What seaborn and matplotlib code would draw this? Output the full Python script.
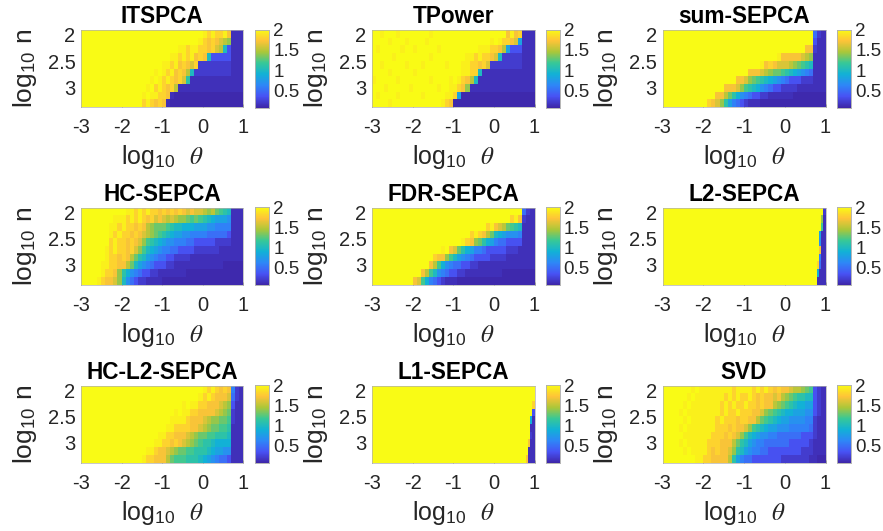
import numpy as np
import pandas as pd
import seaborn as sns
import matplotlib
matplotlib.use("Agg")
import matplotlib.pyplot as plt
from matplotlib.colors import LinearSegmentedColormap

sns.set_style("white")
plt.rcParams["font.family"] = ["Liberation Sans", "DejaVu Sans"]
plt.rcParams["mathtext.fontset"] = "stix"
plt.rcParams["axes.unicode_minus"] = False

# Cell values: each character stands for one estimated level below.
LEVELS = "0123456789ABCDEFGHIJK"
LEVEL_VALUES = [0.0, 0.1, 0.14, 0.22, 0.35, 0.5, 0.6, 0.7, 0.8, 0.9,
                1.0, 1.1, 1.2, 1.3, 1.4, 1.5, 1.6, 1.7, 1.8, 1.94, 2.0]

ITSPCA = [
 "KKKKKKKKKK KKKKKKKKKK KKKKKKKKKK JIJIIJH222",
 "KKKKKKKKKK KKKKKKKKKK KKKKKKKKKJ IHIHGFE222",
 "KKKKKKKKKK KKKKKKKKKK KKKKJJIJJI IHIGFA4222",
 "KKKKKKKKKK KKKKKKKKKK KKJJIJIJHI HA44444222",
 "KKKKKKKKKK KKKKKKKKKK JJIJHIHGI3 3333333222",
 "KKKKKKKKKK KKKKKKKKJK JIJHIHFA33 3333333222",
 "KKKKKKKKKK KKKKKKKJKJ IJIHIGB222 2222222222",
 "KKKKKKKKKK KKKKKKJKIJ IHIF222222 2222222222",
 "KKKKKKKKKK KKKKKJKJJI IH21111111 1111111111",
 "KKKKKKKKKK KKKKKIJIHI H211111111 1111111111",
]
TPOWER = [
 "KKJKKKJKKK KKKKJKKKKK KKKKKKKKKK KKKHJHI222",
 "KKKKJKKKJK KKKJKKKKKK KKKKKKKKKJ KJIIHG8222",
 "KJKKKKKJKK JKKKKKJKKK KKKKKKJJJI IHF8444222",
 "KKKKKJKKKK KKKKJKKKKK KKKJJIJIIH GA33333222",
 "KKJKKKKKJK KKJKKKKKJK KKJJIIHIG3 3333333222",
 "KKKKJKKKKK JKKKKKKKKK KKJJIIA222 2222222222",
 "JKKKKKJKKK KKKKJKKKKJ KJIHFA2222 2222222222",
 "KKKJKKKKKJ KKKKKKJKKJ JIHE222222 2222222222",
 "KJKKKKJKKK KKJKKKKKJJ I811111111 1111111111",
 "KKKKJKKKKK KKKKKKKJIH 1111111111 1111111111",
]
SUM_SEPCA = [
 "KKKKKKKKKK KKKKKKKKKK KKKKKKKKKK KKKKKKK532",
 "KKKKKKKKKK KKKKKKKKKK KKKKKKKKKK KKKKKKK422",
 "KKKKKKKKKK KKKKKKKKKK KKKKKKKKKK KKKKKHH322",
 "KKKKKKKKKK KKKKKKKKKK KKKKKKKKJH HHHHGFE222",
 "KKKKKKKKKK KKKKKKKKKK KKKKJHIHGG GFEDCBA222",
 "KKKKKKKKKK KKKKKKKKKK KHHHGFEDDC BA98765222",
 "KKKKKKKKKK KKKKKKKKHH GEDCBA9876 5444333222",
 "KKKKKKKKKK KKKKKHHHGE CBA9765443 3332222222",
 "KKKKKKKKKK KKKHHFDB97 6544332222 2211111111",
 "KKKKKKKKKK KIHGEB8654 3222111111 1111111111",
]
HC_SEPCA = [
 "KKKKKKKKKK KJJIJIJIIH IHIHIHGHGG FEFDCBA222",
 "KKKKKKKKJJ JIJIJIHIGH GFGFEEDCDC BA98887222",
 "KKKKKKKJJI JIIHIHFEDD DCBAA99988 8776666222",
 "KKKKKKKJIJ IIHIHGFEDC BA98877666 6555554222",
 "KKKKKKKIJI IHIHGECBA9 8776665544 4443333222",
 "KKKKKKJIJI IHIGECA987 6655444433 3333222222",
 "KKKKKKJIIH IHFDBA8765 5443333222 2222222222",
 "KKKKKJJIIH HFDA876544 4332222222 2222211111",
 "KKKKKJIIHE B976544332 2222221111 1111111111",
 "KKKKJIHHGE A754332222 1111111111 1111111111",
]
FDR_SEPCA = [
 "KKKKKKKKKK KKKKKKKKKK KKKKKKKKKK KKKKKKK532",
 "KKKKKKKKKK KKKKKKKKKK KKKKKKKKKK KKKKIJH322",
 "KKKKKKKKKK KKKKKKKKKK KKKKKKKKIJ HGFDCBA222",
 "KKKKKKKKKK KKKKKKKKKK KKKKIJIHFD A987776222",
 "KKKKKKKKKK KKKKKKKKKK KKJIHEDB98 6554444222",
 "KKKKKKKKKK KKKKKKKJKH GDB9866544 4443332222",
 "KKKKKKKKKK KKKKKIHHEC A876544443 3332222222",
 "KKKKKKKKKK KKKKHFC976 5544332222 2222222222",
 "KKKKKKKKKK KKHFCA7654 4332222222 2211111111",
 "KKKKKKKKKK HGC9654322 2111111111 1111111111",
]
# The two panels with a very thin edge are read at twice the column resolution.
L2_SEPCA = [
 "KKKKKKKKKKKKKKKKKKKK KKKKKKKKKKKKKKKKKKKK KKKKKKKKKKKKKKKKKKKK KKKKKKKKKKKKKKKKKKK3",
 "KKKKKKKKKKKKKKKKKKKK KKKKKKKKKKKKKKKKKKKK KKKKKKKKKKKKKKKKKKKK KKKKKKKKKKKKKKKKKKE2",
 "KKKKKKKKKKKKKKKKKKKK KKKKKKKKKKKKKKKKKKKK KKKKKKKKKKKKKKKKKKKK KKKKKKKKKKKKKKKKKKC2",
 "KKKKKKKKKKKKKKKKKKKK KKKKKKKKKKKKKKKKKKKK KKKKKKKKKKKKKKKKKKKK KKKKKKKKKKKKKKKKK822",
 "KKKKKKKKKKKKKKKKKKKK KKKKKKKKKKKKKKKKKKKK KKKKKKKKKKKKKKKKKKKK KKKKKKKKKKKKKKKKK722",
 "KKKKKKKKKKKKKKKKKKKK KKKKKKKKKKKKKKKKKKKK KKKKKKKKKKKKKKKKKKKK KKKKKKKKKKKKKKKKKH22",
 "KKKKKKKKKKKKKKKKKKKK KKKKKKKKKKKKKKKKKKKK KKKKKKKKKKKKKKKKKKKK KKKKKKKKKKKKKKKKK622",
 "KKKKKKKKKKKKKKKKKKKK KKKKKKKKKKKKKKKKKKKK KKKKKKKKKKKKKKKKKKKK KKKKKKKKKKKKKKKKI522",
 "KKKKKKKKKKKKKKKKKKKK KKKKKKKKKKKKKKKKKKKK KKKKKKKKKKKKKKKKKKKK KKKKKKKKKKKKKKKK9222",
 "KKKKKKKKKKKKKKKKKKKK KKKKKKKKKKKKKKKKKKKK KKKKKKKKKKKKKKKKKKKK KKKKKKKKKKKKKKKK2222",
]
HC_L2_SEPCA = [
 "KKKKKKKKKK KKKKKKKKKK KKKKKKKKKK JIJIHIH632",
 "KKKKKKKKKK KKKKKKKKKK KKKKKKKKKJ IJIHHHG532",
 "KKKKKKKKKK KKKKKKKKKK KKKKKJKJJI IHHHGFE422",
 "KKKKKKKKKK KKKKKKKKKK KKKJKJJIIH HHHGFED322",
 "KKKKKKKKKK KKKKKKKKKK KKJJJJIHHH GFEEDDC322",
 "KKKKKKKKKK KKKKKKKKKK KJJIIIIHHG FEDDCCB222",
 "KKKKKKKKKK KKKKKKKKKJ JIIHHHGFED DCCBBBA222",
 "KKKKKKKKKK KKKKKKKKJJ IIHIHGFEDC BBA9999222",
 "KKKKKKKKKK KKKKKKJJIH HGFEDDCCBB BA98877222",
 "KKKKKKKKKK KKKKKJIIHH HFDCCCBBBA 9876554222",
]
L1_SEPCA = [
 "KKKKKKKKKKKKKKKKKKKK KKKKKKKKKKKKKKKKKKKK KKKKKKKKKKKKKKKKKKKK KKKKKKKKKKKKKKKKKKKK",
 "KKKKKKKKKKKKKKKKKKKK KKKKKKKKKKKKKKKKKKKK KKKKKKKKKKKKKKKKKKKK KKKKKKKKKKKKKKKKKKKK",
 "KKKKKKKKKKKKKKKKKKKK KKKKKKKKKKKKKKKKKKKK KKKKKKKKKKKKKKKKKKKK KKKKKKKKKKKKKKKKKKKI",
 "KKKKKKKKKKKKKKKKKKKK KKKKKKKKKKKKKKKKKKKK KKKKKKKKKKKKKKKKKKKK KKKKKKKKKKKKKKKKKKK4",
 "KKKKKKKKKKKKKKKKKKKK KKKKKKKKKKKKKKKKKKKK KKKKKKKKKKKKKKKKKKKK KKKKKKKKKKKKKKKKKK92",
 "KKKKKKKKKKKKKKKKKKKK KKKKKKKKKKKKKKKKKKKK KKKKKKKKKKKKKKKKKKKK KKKKKKKKKKKKKKKKKK22",
 "KKKKKKKKKKKKKKKKKKKK KKKKKKKKKKKKKKKKKKKK KKKKKKKKKKKKKKKKKKKK KKKKKKKKKKKKKKKKKK32",
 "KKKKKKKKKKKKKKKKKKKK KKKKKKKKKKKKKKKKKKKK KKKKKKKKKKKKKKKKKKKK KKKKKKKKKKKKKKKKKH22",
 "KKKKKKKKKKKKKKKKKKKK KKKKKKKKKKKKKKKKKKKK KKKKKKKKKKKKKKKKKKKK KKKKKKKKKKKKKKKKK222",
 "KKKKKKKKKKKKKKKKKKKK KKKKKKKKKKKKKKKKKKKK KKKKKKKKKKKKKKKKKKKK KKKKKKKKKKKKKKKKH222",
]
SVD = [
 "KKKKKKKJKJ JJJJJJJIJJ JJIJIJIHIH HGFFEDC432",
 "KKKKKKJKJJ JJJJJIJIJI IJIHIHHGHF EDCBBAA432",
 "KKKKKJKJJJ JJJJIJIJII JIIHIHHFED CBA9988432",
 "KKKKJKJJJJ JJJJIJIIJI IIHHGEDCBA 9988877432",
 "KKKKKJKJJJ JJJIJIIIHI IHHFDCBA98 8777766322",
 "KKKKJKJJJJ JJJIIIHIHH GECBA98877 7666665322",
 "KKKKKJJJJJ JJIIIHIHGE CA98776655 5555444322",
 "KKKKJKJJJJ JIIIHHHFDB A876655555 5444443222",
 "KKKKKJKJJJ JIHIHHGEBA 8766554444 4444333222",
 "KKKKKKKKJJ IIHHHHFB86 5544444443 3333332211",
]

panel_titles = ["ITSPCA", "TPower", "sum-SEPCA",
                "HC-SEPCA", "FDR-SEPCA", "L2-SEPCA",
                "HC-L2-SEPCA", "L1-SEPCA", "SVD"]
panel_rows = [ITSPCA, TPOWER, SUM_SEPCA,
              HC_SEPCA, FDR_SEPCA, L2_SEPCA,
              HC_L2_SEPCA, L1_SEPCA, SVD]

x_ticks = [-3, -2, -1, 0, 1]
x_tick_labels = ["-3", "-2", "-1", "0", "1"]
y_ticks = [2, 2.5, 3]
y_tick_labels = ["2", "2.5", "3"]
cbar_ticks = [0.5, 1, 1.5, 2]
cbar_tick_labels = ["0.5", "1", "1.5", "2"]

# log10 n at the top edge of the image and the height of one row
Y_TOP = 1.904
ROW_H = 0.148

parula = LinearSegmentedColormap.from_list("parula", [
    (0.2422, 0.1504, 0.6603), (0.2810, 0.3228, 0.9579),
    (0.1786, 0.5289, 0.9682), (0.0689, 0.6948, 0.8394),
    (0.2161, 0.7843, 0.5923), (0.6720, 0.7793, 0.2227),
    (0.9970, 0.7659, 0.2199), (0.9769, 0.9839, 0.0805)])

W, H = 883, 531
col_px = [(81, 243, 255, 269), (372, 534.5, 546, 559.5), (662.5, 825.5, 837, 851)]
row_px = [(30, 107), (207.7, 284.5), (385.7, 462.5)]

TEXT = "#262626"
EDGE = "#b0b0b0"

fig = plt.figure(figsize=(W / 100, H / 100), dpi=100)
for k, (title, rows) in enumerate(zip(panel_titles, panel_rows)):
    x0, x1, c0, c1 = col_px[k % 3]
    y0, y1 = row_px[k // 3]
    ax = fig.add_axes([x0 / W, 1 - y1 / H, (x1 - x0) / W, (y1 - y0) / H])
    cax = fig.add_axes([c0 / W, 1 - (y1 + 0.5) / H, (c1 - c0) / W, (y1 - y0 + 1) / H])
    cells = [[LEVEL_VALUES[LEVELS.index(ch)] for ch in r.replace(" ", "")] for r in rows]
    assert len({len(c) for c in cells}) == 1, title
    df = pd.DataFrame(cells)
    ncol = df.shape[1]
    sns.heatmap(df, ax=ax, cbar_ax=cax, cmap=parula, vmin=0.08, vmax=2.0,
                xticklabels=False, yticklabels=False)
    ax.set_xticks([(v + 3) / 4 * ncol for v in x_ticks], x_tick_labels)
    ax.set_yticks([(v - Y_TOP) / ROW_H for v in y_ticks], y_tick_labels, rotation=0)
    ax.tick_params(axis="both", direction="in", length=2, width=0.6, color="#555555",
                   labelsize=14.5, labelcolor=TEXT, left=True, bottom=True)
    ax.tick_params(axis="x", pad=8)
    ax.tick_params(axis="y", pad=4)
    for s in ax.spines.values():
        s.set_visible(True)
        s.set_linewidth(0.5)
        s.set_color(EDGE)
    ax.set_title(title, fontsize=16.3, fontweight="bold", color="black", pad=5)
    ax.set_xlabel("log$_{\\mathregular{10}}$  $\\theta$", fontsize=18, color=TEXT)
    ax.set_ylabel("log$_{\\mathregular{10}}$ n", fontsize=19, color=TEXT, va="center")
    ax.xaxis.set_label_coords(0.5, -0.47)
    ax.yaxis.set_label_coords(-0.345, 0.5)

    cax.set_yticks(cbar_ticks, cbar_tick_labels)
    cax.tick_params(axis="y", length=0, labelsize=13.5, labelcolor=TEXT, pad=3)
    for s in cax.spines.values():
        s.set_visible(True)
        s.set_linewidth(0.5)
        s.set_color(EDGE)

fig.savefig("out.png", dpi=100)
